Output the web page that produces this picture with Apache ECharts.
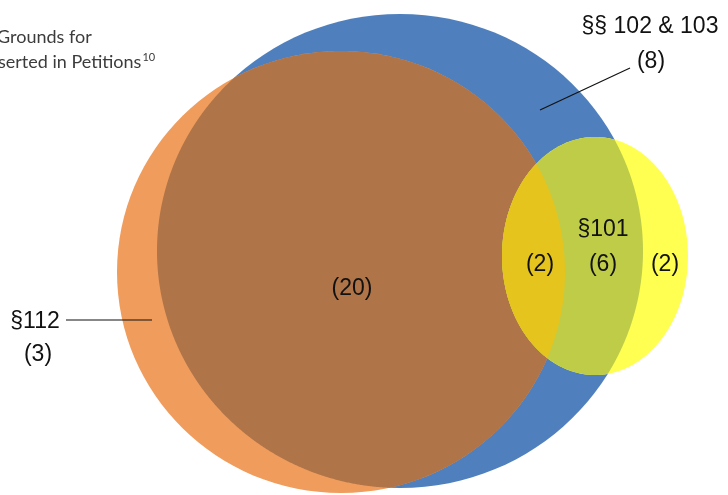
<!DOCTYPE html>
<html>
<head>
<meta charset="utf-8">
<script src="https://cdn.jsdelivr.net/npm/echarts@6/dist/echarts.min.js"></script>
<style>html,body{margin:0;padding:0;background:#fff;}#c{width:728px;height:495px;}</style>
</head>
<body>
<div id="c"></div>
<script>
// Sets and region counts
const setNames = ['§§ 102 & 103', '§112', '§101'];
const setTotals = [8, 3, 6];
const regionCounts = { overlap102_112: 20, overlapAll: 2, overlap101_102: 6, only101: 2 };
// Ellipse geometry in chart units (x right, y down): 0 = §§102&103, 1 = §112, 2 = §101
const ellipseCenters = [[400, 251], [341, 272], [595, 256]];
const ellipseRadii = [[243, 237], [224, 221], [93, 119]];
// Regions to paint: which sets they belong to, and fill colour
const regionSets = [[0], [1], [0, 1], [2], [0, 2], [0, 1, 2]];
const regionColors = ['#4f80bd', '#ef9c5c', '#af7447', '#ffff52', '#bfcc48', '#e5c41e'];
// Label anchor points in chart units
const labelPoints = {
  set102: [650, 27], total102: [651, 62],
  set112: [35, 322], total112: [38, 355],
  mid: [352, 289], set101: [603, 230],
  r1: [540, 265], r2: [603, 265], r3: [665, 265]
};
const leaderLines = [[[540, 110], [630, 68]], [[66, 320], [152, 320]]];
const captionLines = ['Grounds for', 'serted in Petitions'];
const captionNote = '10';

const chart = echarts.init(document.getElementById('c'), null, { renderer: 'canvas' });

function inside(e, p) {
  const dx = (p[0] - e.cx) / e.rx, dy = (p[1] - e.cy) / e.ry;
  return dx * dx + dy * dy <= 1.0005;
}
function intersectionPolygon(els) {
  const pts = [];
  const N = 1440;
  els.forEach(function (e, i) {
    for (let k = 0; k < N; k++) {
      const t = 2 * Math.PI * k / N;
      const p = [e.cx + e.rx * Math.cos(t), e.cy + e.ry * Math.sin(t)];
      let ok = true;
      els.forEach(function (o, j) { if (j !== i && !inside(o, p)) ok = false; });
      if (ok) pts.push(p);
    }
  });
  if (!pts.length) return [];
  let mx = 0, my = 0;
  pts.forEach(function (p) { mx += p[0]; my += p[1]; });
  mx /= pts.length; my /= pts.length;
  pts.sort(function (a, b) { return Math.atan2(a[1] - my, a[0] - mx) - Math.atan2(b[1] - my, b[0] - mx); });
  return pts;
}

const textFont = '"Liberation Sans", Arial, sans-serif';
const texts = [
  [labelPoints.set102, setNames[0]],
  [labelPoints.total102, '(' + setTotals[0] + ')'],
  [labelPoints.set112, setNames[1]],
  [labelPoints.total112, '(' + setTotals[1] + ')'],
  [labelPoints.mid, '(' + regionCounts.overlap102_112 + ')'],
  [labelPoints.set101, setNames[2]],
  [labelPoints.r1, '(' + regionCounts.overlapAll + ')'],
  [labelPoints.r2, '(' + regionCounts.overlap101_102 + ')'],
  [labelPoints.r3, '(' + regionCounts.only101 + ')']
];

const capFont = '18px Lato, "Open Sans", sans-serif';
const mctx = document.createElement('canvas').getContext('2d');
mctx.font = capFont;
const cap2Width = mctx.measureText(captionLines[1]).width;

chart.setOption({
  backgroundColor: '#fff',
  animation: false,
  grid: { left: 0, right: 0, top: 0, bottom: 0 },
  xAxis: { type: 'value', min: 0, max: 728, show: false },
  yAxis: { type: 'value', min: 0, max: 495, inverse: true, show: false },
  graphic: [
    { type: 'text', x: -3, y: 37, z: 100,
      style: { text: captionLines[0], font: capFont, fill: '#3c3c3c', verticalAlign: 'middle' } },
    { type: 'text', x: -2, y: 62, z: 100,
      style: { text: captionLines[1], font: capFont, fill: '#3c3c3c', verticalAlign: 'middle' } },
    { type: 'text', x: -2 + cap2Width + 1, y: 57, z: 100,
      style: { text: captionNote, font: '11px Lato, "Open Sans", sans-serif', fill: '#3c3c3c', verticalAlign: 'middle' } }
  ],
  series: [
    {
      type: 'custom', coordinateSystem: 'cartesian2d', silent: true, animation: false, z: 2,
      data: regionSets.map(function (s, i) { return [i]; }),
      renderItem: function (params, api) {
        const idx = params.dataIndex;
        const els = regionSets[idx].map(function (k) {
          const c = api.coord(ellipseCenters[k]);
          const s = api.size(ellipseRadii[k]);
          return { cx: c[0], cy: c[1], rx: s[0], ry: s[1] };
        });
        if (els.length === 1) {
          return { type: 'ellipse', shape: { cx: els[0].cx, cy: els[0].cy, rx: els[0].rx, ry: els[0].ry },
            style: { fill: regionColors[idx] } };
        }
        return { type: 'polygon', shape: { points: intersectionPolygon(els) },
          style: { fill: regionColors[idx] } };
      }
    },
    {
      type: 'custom', coordinateSystem: 'cartesian2d', silent: true, animation: false, z: 20,
      data: leaderLines.map(function (l) { return [l[0][0], l[0][1], l[1][0], l[1][1]]; }),
      renderItem: function (params, api) {
        const a = api.coord([api.value(0), api.value(1)]);
        const b = api.coord([api.value(2), api.value(3)]);
        return { type: 'line', shape: { x1: a[0], y1: a[1], x2: b[0], y2: b[1] },
          style: { stroke: '#111', lineWidth: 1.2 } };
      }
    },
    {
      type: 'custom', coordinateSystem: 'cartesian2d', silent: true, animation: false, z: 21,
      data: texts.map(function (t) { return [t[0][0], t[0][1]]; }),
      renderItem: function (params, api) {
        const p = api.coord([api.value(0), api.value(1)]);
        return { type: 'text', x: p[0], y: p[1],
          style: { text: texts[params.dataIndex][1], font: '23px ' + textFont, fill: '#111',
            align: 'center', verticalAlign: 'middle' } };
      }
    }
  ]
});
</script>
</body>
</html>
